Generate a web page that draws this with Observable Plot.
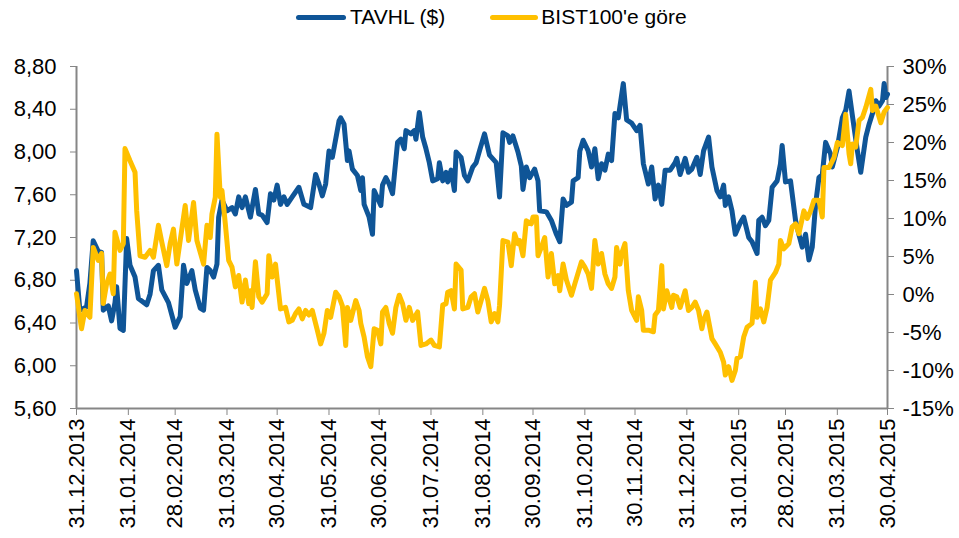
<!DOCTYPE html>
<html>
<head>
<meta charset="utf-8">
<script src="https://cdn.jsdelivr.net/npm/d3@7"></script>
<script src="https://cdn.jsdelivr.net/npm/@observablehq/plot@0.6"></script>
<style>
  html, body { margin: 0; padding: 0; background: #fff; }
  #wrap { position: relative; width: 959px; height: 538px; overflow: hidden; }
  #legend { position: absolute; left: 296px; top: 4px; height: 26px; line-height: 26px;
    font-family: "Liberation Sans", Arial, sans-serif; font-size: 21px; color: #000; white-space: nowrap; z-index: 2; }
  #legend .sw { display: inline-block; height: 5px; border-radius: 3px; vertical-align: middle; margin-top: -2px; }
  #chart { position: absolute; left: 0; top: 0; }
</style>
</head>
<body>
<div id="wrap">
  <div id="legend">
    <span class="sw" style="width:50px;background:#0f5597;margin-right:4px"></span><span>TAVHL ($)</span><span class="sw" style="width:48px;background:#ffc000;margin-left:45px;margin-right:3px"></span><span>BIST100'e göre</span>
  </div>
  <div id="chart"></div>
</div>
<script>
// TAVHL ($) price series
const tavhlDates = [
"2013-12-31","2014-01-02","2014-01-06","2014-01-08","2014-01-10","2014-01-13","2014-01-15","2014-01-16","2014-01-19","2014-01-21",
"2014-01-23","2014-01-24","2014-01-26","2014-01-28","2014-01-30","2014-02-01","2014-02-04","2014-02-06","2014-02-11","2014-02-13",
"2014-02-15","2014-02-18","2014-02-20","2014-02-24","2014-02-28","2014-03-03","2014-03-05","2014-03-07","2014-03-10","2014-03-12",
"2014-03-15","2014-03-17","2014-03-19","2014-03-21","2014-03-23","2014-03-25","2014-03-26","2014-03-28","2014-03-31","2014-04-03",
"2014-04-05","2014-04-07","2014-04-09","2014-04-11","2014-04-14","2014-04-17","2014-04-19","2014-04-21","2014-04-24","2014-04-26",
"2014-04-28","2014-04-30","2014-05-02","2014-05-04","2014-05-06","2014-05-09","2014-05-13","2014-05-16","2014-05-20","2014-05-23",
"2014-05-25","2014-05-27","2014-05-29","2014-05-31","2014-06-02","2014-06-06","2014-06-07","2014-06-09","2014-06-11","2014-06-12",
"2014-06-14","2014-06-17","2014-06-19","2014-06-20","2014-06-21","2014-06-24","2014-06-26","2014-06-27","2014-07-01","2014-07-02",
"2014-07-04","2014-07-06","2014-07-08","2014-07-11","2014-07-13","2014-07-15","2014-07-16","2014-07-19","2014-07-21","2014-07-22",
"2014-07-24","2014-07-26","2014-07-28","2014-07-30","2014-08-01","2014-08-04","2014-08-05","2014-08-07","2014-08-09","2014-08-10",
"2014-08-12","2014-08-14","2014-08-15","2014-08-18","2014-08-20","2014-08-22","2014-08-25","2014-08-27","2014-08-29","2014-09-01",
"2014-09-04","2014-09-08","2014-09-10","2014-09-12","2014-09-15","2014-09-16","2014-09-18","2014-09-21","2014-09-23","2014-09-24",
"2014-09-26","2014-09-28","2014-10-01","2014-10-03","2014-10-04","2014-10-08","2014-10-11","2014-10-14","2014-10-16","2014-10-18",
"2014-10-20","2014-10-23","2014-10-24","2014-10-27","2014-10-28","2014-10-30","2014-11-02","2014-11-04","2014-11-06","2014-11-08",
"2014-11-10","2014-11-12","2014-11-14","2014-11-16","2014-11-18","2014-11-20","2014-11-23","2014-11-25","2014-11-28","2014-12-01",
"2014-12-03","2014-12-05","2014-12-08","2014-12-10","2014-12-12","2014-12-14","2014-12-16","2014-12-18","2014-12-21","2014-12-24",
"2014-12-25","2014-12-27","2014-12-30","2015-01-01","2015-01-03","2015-01-06","2015-01-08","2015-01-10","2015-01-13","2015-01-15",
"2015-01-18","2015-01-20","2015-01-22","2015-01-23","2015-01-25","2015-01-27","2015-01-29","2015-02-01","2015-02-03","2015-02-06",
"2015-02-08","2015-02-11","2015-02-12","2015-02-14","2015-02-16","2015-02-18","2015-02-20","2015-02-23","2015-02-25","2015-02-26",
"2015-02-28","2015-03-03","2015-03-06","2015-03-08","2015-03-10","2015-03-12","2015-03-14","2015-03-16","2015-03-18","2015-03-20",
"2015-03-22","2015-03-24","2015-03-27","2015-03-28","2015-03-31","2015-04-03","2015-04-05","2015-04-07","2015-04-09","2015-04-12",
"2015-04-14","2015-04-17","2015-04-19","2015-04-21","2015-04-23","2015-04-25","2015-04-27","2015-04-28","2015-04-29","2015-04-30"];
const tavhlValues = [
6.89,6.52,6.55,6.77,7.17,7.07,7.06,6.52,6.56,6.42,
6.59,6.74,6.35,6.33,7.19,6.94,6.83,6.63,6.57,6.67,
6.89,6.94,6.71,6.59,6.36,6.46,6.94,6.77,6.89,6.71,
6.54,6.52,6.92,6.89,6.83,6.95,7.39,7.55,7.45,7.48,
7.42,7.58,7.48,7.58,7.39,7.65,7.42,7.41,7.34,7.61,
7.55,7.69,7.51,7.58,7.51,7.58,7.67,7.51,7.48,7.79,
7.70,7.59,7.70,8.01,7.95,8.29,8.32,8.26,7.92,8.01,
7.84,7.78,7.64,7.76,7.51,7.39,7.23,7.64,7.50,7.69,
7.76,7.70,7.61,8.09,8.12,8.03,8.20,8.17,8.20,8.12,
8.37,8.14,8.03,7.90,7.73,7.75,7.90,7.73,7.81,7.72,
7.83,7.64,8.00,7.95,7.78,7.73,7.86,7.90,8.01,8.17,
7.97,7.90,7.58,8.18,8.15,8.09,8.15,8.00,7.87,7.65,
7.86,7.76,7.84,7.73,7.45,7.44,7.36,7.23,7.16,7.56,
7.50,7.53,7.73,7.76,8.01,8.11,8.01,7.86,8.03,7.75,
7.89,7.83,7.98,7.92,8.36,8.32,8.64,8.30,8.27,8.20,
8.25,7.89,7.70,7.86,7.56,7.69,7.51,7.83,7.83,7.90,
7.94,7.79,7.94,7.81,7.84,7.95,7.79,8.01,8.14,7.86,
7.64,7.58,7.69,7.50,7.58,7.45,7.23,7.34,7.39,7.20,
7.16,7.05,7.36,7.39,7.31,7.36,7.67,7.73,7.89,8.06,
7.72,7.73,7.36,7.23,7.11,7.23,6.99,7.11,7.51,7.76,
7.79,8.09,7.98,7.86,8.04,8.32,8.39,8.57,8.34,8.01,
7.81,8.14,8.26,8.36,8.48,8.43,8.48,8.64,8.51,8.54];

// Relative performance vs BIST100 (%)
const bistDates = [
"2013-12-31","2014-01-03","2014-01-05","2014-01-08","2014-01-10","2014-01-13","2014-01-15","2014-01-16","2014-01-18","2014-01-20",
"2014-01-22","2014-01-23","2014-01-26","2014-01-28","2014-01-29","2014-02-01","2014-02-04","2014-02-05","2014-02-07","2014-02-10",
"2014-02-13","2014-02-15","2014-02-18","2014-02-20","2014-02-23","2014-02-25","2014-02-27","2014-03-01","2014-03-03","2014-03-06",
"2014-03-08","2014-03-11","2014-03-13","2014-03-17","2014-03-19","2014-03-21","2014-03-22","2014-03-24","2014-03-25","2014-03-27",
"2014-03-28","2014-03-30","2014-04-01","2014-04-03","2014-04-05","2014-04-07","2014-04-09","2014-04-11","2014-04-13","2014-04-14",
"2014-04-15","2014-04-17","2014-04-19","2014-04-21","2014-04-24","2014-04-25","2014-04-27","2014-04-29","2014-05-02","2014-05-05",
"2014-05-07","2014-05-09","2014-05-11","2014-05-13","2014-05-15","2014-05-17","2014-05-19","2014-05-21","2014-05-24","2014-05-26",
"2014-05-28","2014-05-30","2014-06-01","2014-06-04","2014-06-06","2014-06-08","2014-06-10","2014-06-11","2014-06-13","2014-06-16",
"2014-06-18","2014-06-19","2014-06-21","2014-06-23","2014-06-25","2014-06-27","2014-06-29","2014-07-01","2014-07-02","2014-07-04",
"2014-07-06","2014-07-08","2014-07-10","2014-07-12","2014-07-14","2014-07-16","2014-07-18","2014-07-20","2014-07-23","2014-07-25",
"2014-07-28","2014-07-31","2014-08-02","2014-08-05","2014-08-07","2014-08-09","2014-08-10","2014-08-12","2014-08-14","2014-08-15",
"2014-08-18","2014-08-19","2014-08-22","2014-08-24","2014-08-26","2014-08-28","2014-08-30","2014-09-01","2014-09-03","2014-09-05",
"2014-09-07","2014-09-09","2014-09-10","2014-09-12","2014-09-15","2014-09-17","2014-09-19","2014-09-21","2014-09-22","2014-09-24",
"2014-09-26","2014-09-29","2014-09-30","2014-10-02","2014-10-03","2014-10-05","2014-10-07","2014-10-09","2014-10-11","2014-10-13",
"2014-10-15","2014-10-16","2014-10-18","2014-10-20","2014-10-23","2014-10-25","2014-10-29","2014-10-31","2014-11-02","2014-11-04",
"2014-11-06","2014-11-08","2014-11-10","2014-11-12","2014-11-14","2014-11-16","2014-11-18","2014-11-19","2014-11-21","2014-11-22",
"2014-11-24","2014-11-26","2014-11-28","2014-12-01","2014-12-02","2014-12-04","2014-12-05","2014-12-08","2014-12-11","2014-12-12",
"2014-12-14","2014-12-16","2014-12-17","2014-12-19","2014-12-22","2014-12-23","2014-12-25","2014-12-27","2014-12-30","2015-01-01",
"2015-01-03","2015-01-05","2015-01-07","2015-01-09","2015-01-10","2015-01-12","2015-01-15","2015-01-17","2015-01-20","2015-01-22",
"2015-01-23","2015-01-25","2015-01-27","2015-01-29","2015-01-30","2015-02-01","2015-02-03","2015-02-05","2015-02-08","2015-02-10",
"2015-02-11","2015-02-13","2015-02-15","2015-02-17","2015-02-19","2015-02-22","2015-02-24","2015-02-25","2015-02-27","2015-03-02",
"2015-03-04","2015-03-06","2015-03-08","2015-03-11","2015-03-13","2015-03-15","2015-03-17","2015-03-20","2015-03-22","2015-03-23",
"2015-03-26","2015-03-29","2015-03-31","2015-04-03","2015-04-05","2015-04-07","2015-04-08","2015-04-09","2015-04-11","2015-04-13",
"2015-04-15","2015-04-17","2015-04-20","2015-04-21","2015-04-23","2015-04-26","2015-04-28","2015-04-30"];
const bistValues = [
0.1,-4.5,-2.1,-3.0,6.2,4.5,5.4,-1.2,1.4,2.7,
0.1,8.2,5.8,6.7,19.2,17.6,16.1,11.0,5.1,4.9,
5.8,4.9,9.1,6.9,3.8,6.7,8.6,4.0,7.1,11.7,
7.1,12.1,7.1,4.0,9.1,7.5,10.6,12.8,21.1,12.8,
13.7,9.3,4.5,3.6,1.0,2.5,-1.0,1.9,-1.2,0.5,
-1.7,4.3,-0.3,-1.0,0.1,5.1,2.3,4.0,-1.9,-1.7,
-3.6,-3.4,-2.5,-1.9,-3.2,-2.1,-2.7,-2.1,-4.7,-6.5,
-5.1,-2.1,-3.0,0.3,-0.3,-1.5,-6.7,-1.7,-3.4,-0.8,
-2.1,-3.8,-5.6,-8.2,-9.5,-4.5,-4.7,-6.5,-2.3,-1.7,
-3.8,-5.1,-1.7,-0.1,-1.2,-3.4,-1.7,-3.4,-2.3,-6.7,
-6.5,-6.0,-6.7,-6.9,-1.4,-1.2,0.3,0.5,-1.9,4.0,
3.2,-1.9,-1.7,-0.3,0.1,-2.3,-0.8,0.8,-0.8,-3.6,
-2.5,-3.6,-1.4,7.1,6.9,3.8,8.0,6.7,7.1,5.1,
9.7,9.3,10.2,10.2,5.1,6.2,7.5,2.3,5.4,1.4,
2.5,0.5,4.0,1.9,-0.1,1.4,4.3,3.6,2.7,0.8,
7.1,4.0,5.4,2.7,1.4,0.8,2.3,6.2,4.0,5.4,
6.7,0.5,-2.1,-3.4,-0.3,-2.1,-4.7,-4.7,-4.9,-2.7,
-2.1,3.8,-1.9,0.5,-1.7,-0.1,-0.3,-1.7,0.5,-2.1,
-1.7,-1.0,-2.1,-4.5,-3.4,-2.3,-5.8,-6.5,-7.6,-8.9,
-10.6,-9.5,-11.3,-10.0,-8.4,-8.2,-5.6,-4.3,-3.8,1.6,
-3.0,-1.9,-3.6,-1.7,1.9,2.9,4.0,7.1,6.0,6.7,
8.9,9.3,8.0,11.0,10.0,11.0,12.4,12.4,10.2,16.7,
16.7,18.0,20.0,19.6,23.7,18.5,17.2,19.8,19.4,22.9,
23.3,24.6,27.0,24.2,24.8,22.6,24.0,24.6];

const xTickDates = ["2013-12-31","2014-01-31","2014-02-28","2014-03-31","2014-04-30","2014-05-31","2014-06-30",
  "2014-07-31","2014-08-31","2014-09-30","2014-10-31","2014-11-30","2014-12-31","2015-01-31","2015-02-28","2015-03-31","2015-04-30"];
const leftTicks = [5.6, 6.0, 6.4, 6.8, 7.2, 7.6, 8.0, 8.4, 8.8];
const rightTicks = [-15, -10, -5, 0, 5, 10, 15, 20, 25, 30];

const parse = d3.utcParse("%Y-%m-%d");
const tavhl = tavhlDates.map((d, i) => ({date: parse(d), value: tavhlValues[i]}));
const bist = bistDates.map((d, i) => ({date: parse(d), value: bistValues[i]}));

const leftDomain = [5.6, 8.8];
const rightDomain = [-15, 30];
const toLeft = p => leftDomain[0] + (p - rightDomain[0]) / (rightDomain[1] - rightDomain[0]) * (leftDomain[1] - leftDomain[0]);
const fromLeft = v => rightDomain[0] + (v - leftDomain[0]) / (leftDomain[1] - leftDomain[0]) * (rightDomain[1] - rightDomain[0]);

const axisGray = "#868686";
const x0 = parse(xTickDates[0]), x1 = parse(xTickDates[xTickDates.length - 1]);

const chart = Plot.plot({
  width: 959,
  height: 538,
  marginLeft: 76,
  marginRight: 72,
  marginTop: 66,
  marginBottom: 130,
  style: {fontFamily: "'Liberation Sans', Arial, sans-serif", fontSize: "22px", color: "#000", background: "transparent", overflow: "visible"},
  x: {type: "utc", domain: [x0, x1]},
  y: {domain: leftDomain},
  marks: [
    Plot.axisY({ticks: leftTicks, tickFormat: d => d.toFixed(2).replace(".", ","), tickSize: 6, tickPadding: 14,
      stroke: axisGray, fill: "#000", label: null, fontSize: 22}),
    Plot.axisY({ticks: rightTicks.map(toLeft), anchor: "right", tickFormat: d => Math.round(fromLeft(d)) + "%",
      tickSize: 6, tickPadding: 9, stroke: axisGray, fill: "#000", label: null, fontSize: 22}),
    Plot.axisX({ticks: xTickDates.map(parse), tickFormat: d3.utcFormat("%d.%m.%Y"), tickRotate: -90,
      tickSize: 7, tickPadding: 3, stroke: axisGray, fill: "#000", label: null, fontSize: 22}),
    Plot.ruleX([x0, x1], {stroke: axisGray, strokeWidth: 2}),
    Plot.ruleY([leftDomain[0]], {stroke: axisGray, strokeWidth: 2}),
    Plot.line(tavhl, {x: "date", y: "value", stroke: "#0f5597", strokeWidth: 5, strokeLinejoin: "round", strokeLinecap: "round"}),
    Plot.line(bist, {x: "date", y: d => toLeft(d.value), stroke: "#ffc000", strokeWidth: 5, strokeLinejoin: "round", strokeLinecap: "round"})
  ]
});
document.getElementById("chart").appendChild(chart);
</script>
</body>
</html>
